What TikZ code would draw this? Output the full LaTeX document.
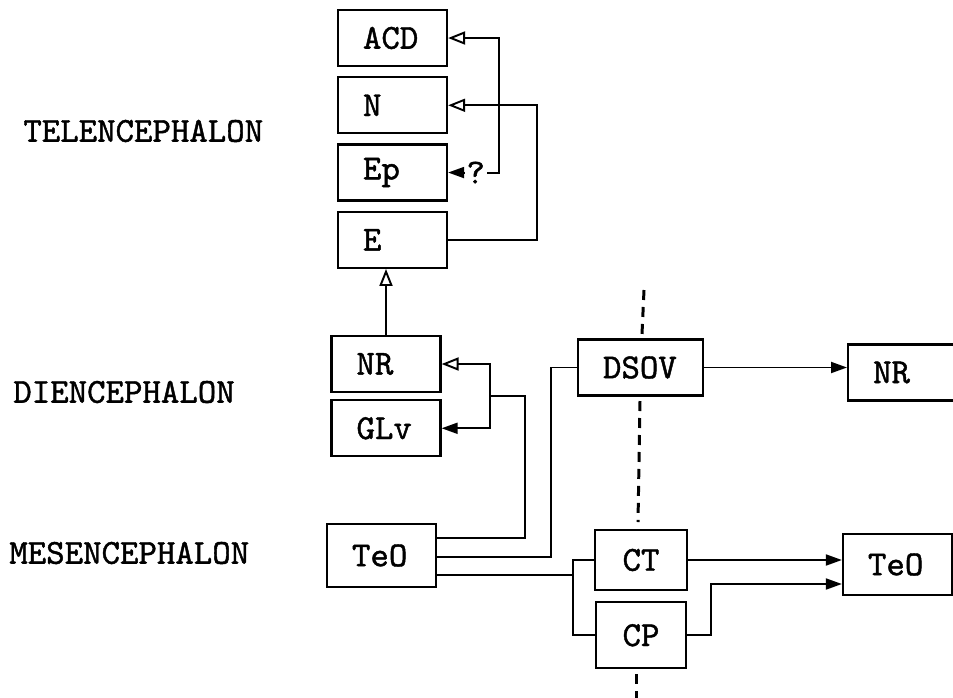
\documentclass[tikz,border=0pt]{standalone}
\usepackage{fontspec}
\newfontfamily\typer{lmmono10-regular.otf}[FakeBold=1.2]
\usetikzlibrary{arrows.meta,positioning,calc}
\tikzset{
  >=Stealth,
  font=\typer\fontsize{20}{22}\selectfont,
  box/.style={draw,line width=1.3pt,fill=white,align=left,inner xsep=0.5cm,inner ysep=0pt,
              text width=1.18cm,minimum height=1.12cm},
  cbox/.style={box,align=center},
  region/.style={inner sep=0pt,anchor=west},
  wire/.style={line width=1.1pt},
  flow/.style={wire,-{Triangle[length=0.32cm,width=0.22cm]}},
  flowo/.style={wire,-{Triangle[length=0.34cm,width=0.26cm,fill=white]}},
  seam/.style={line width=1.7pt,dash pattern=on 0.2cm off 0.14cm},
  qmark/.style={fill=white,inner sep=1pt,font=\typer\fontsize{20}{22}\selectfont\bfseries},
}
\begin{document}
\begin{tikzpicture}[x=0.02cm,y=-0.02cm]
  \useasboundingbox (0,0) rectangle (953,697);
  \clip (0,0) rectangle (953,697);
  % telencephalon
  \node[box] (acd) at (392.5,38) {ACD};
  \node[box,below=0.18cm of acd] (n) {N};
  \node[box,below=0.18cm of n] (ep) {Ep};
  \node[box,below=0.18cm of ep] (e) {E};
  % diencephalon
  \node[box] (nr) at (386,364) {NR};
  \node[box,below=0.12cm of nr] (glv) {GLv};
  \node[box,text width=1.5cm] (dsov) at (640.5,367.5) {DSOV};
  \node[box,text width=1.4cm,anchor=west] (nr2) at (847,372.5) {NR};
  % mesencephalon
  \node[box,minimum height=1.26cm] (teo) at (381.5,555.5) {TeO};
  \node[cbox,text width=0.84cm,minimum height=1.2cm] (ct) at (641,560) {CT};
  \node[cbox,text width=0.8cm,minimum height=1.32cm,below=0.2cm of ct] (cp) {CP};
  \node[box,minimum height=1.22cm] (teo2) at (897.5,564.5) {TeO};
  % levels
  \node[region] (tel) at (23,131) {TELENCEPHALON};
  \node[region] (die) at (13,392) {DIENCEPHALON};
  \node[region] (mes) at (9,553) {MESENCEPHALON};
  % midline
  \draw[seam] (644,290) -- (642,334);
  \draw[seam] (640,401) -- (638,522);
  \draw[seam] (636,674) -- (636,700);
  % connections
  \draw[flowo] (nr.north) -- (nr.north |- e.south);
  \draw[flowo] (e.east) -- ++(89,0) |- (n.east);
  \coordinate (tb) at ($(n.east)+(51,0)$);
  \draw[flowo] (tb) |- (acd.east);
  \draw[flow] (tb) |- node[qmark,pos=0.73]{?} (ep.east);
  \coordinate (jd) at (490,396);
  \draw[wire] ([yshift=0.35cm]teo.east) -| ($(jd)+(35,0)$) -- (jd);
  \draw[flowo] (jd) |- (nr.east);
  \draw[flow] (jd) |- (glv.east);
  \draw[wire] ([yshift=-0.03cm]teo.east) -- ++(114,0) |- (dsov.west);
  \draw[flow] (dsov.east) -- (dsov.east -| nr2.west);
  \draw[wire] ([yshift=-0.39cm]teo.east) -- ++(136,0) coordinate (jc);
  \draw[wire] (ct.west) -| (jc) |- (cp.west);
  \draw[flow] (ct.east) -- (ct.east -| teo2.west);
  \draw[flow] (cp.east) -- ++(24,0) |- ([yshift=-0.39cm]teo2.west);
\end{tikzpicture}
\end{document}
